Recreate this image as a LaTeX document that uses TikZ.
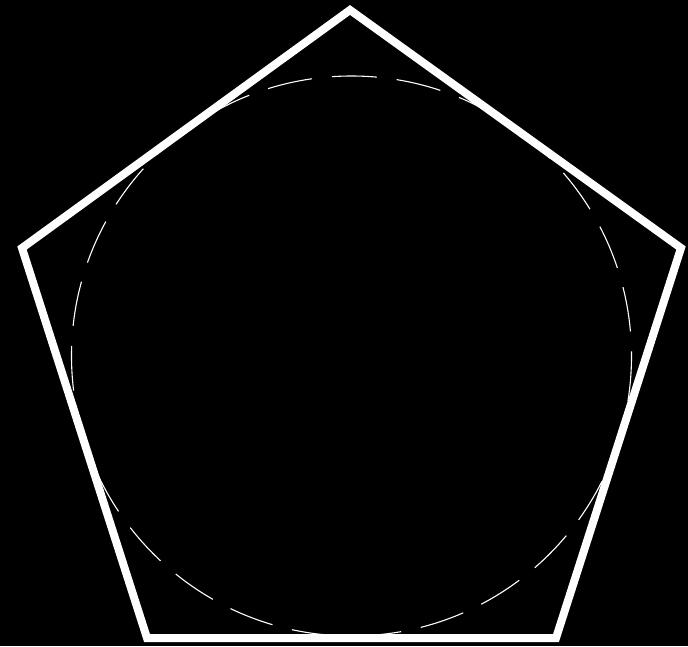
\documentclass[tikz,border=0pt]{standalone}
\begin{document}
\begin{tikzpicture}[x=1pt,y=-1pt,
  penta/.style={draw=white,line width=8pt,line join=miter},
  incircle/.style={draw=white,line width=1.1pt,dash pattern=on 45pt off 20pt}]
\fill[black] (0,0) rectangle (688,646);
\useasboundingbox (0,0) rectangle (688,646);
\coordinate (A) at (350,10);
\coordinate (B) at (681,248);
\coordinate (C) at (556,638);
\coordinate (D) at (147,638);
\coordinate (E) at (22,248);
\coordinate (O) at (351.5,356);
\draw[penta] (A) -- (B) -- (C) -- (D) -- (E) -- cycle;
\draw[incircle] (O) circle[radius=280];
\end{tikzpicture}
\end{document}
